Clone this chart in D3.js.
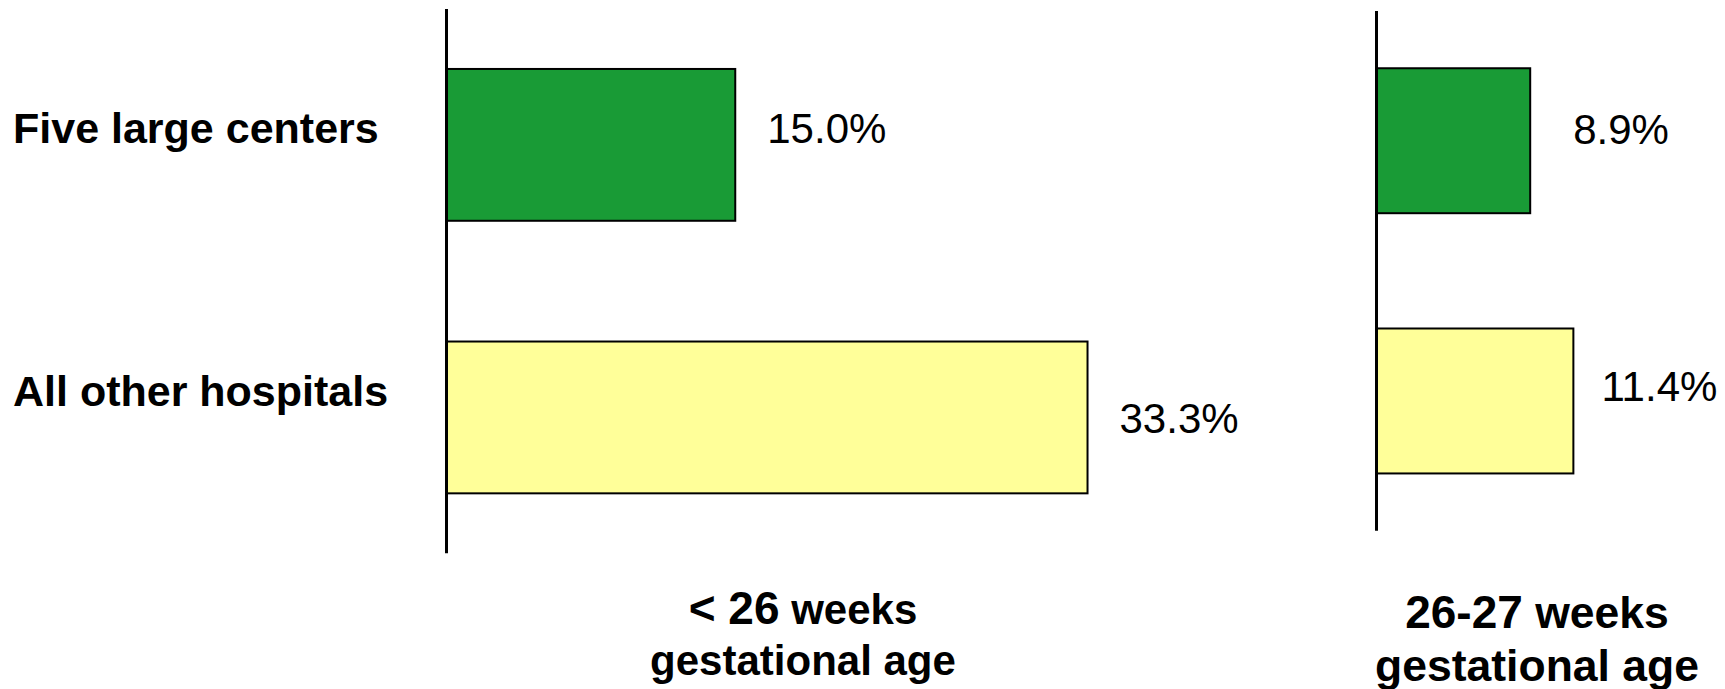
<!doctype html>
<html lang="en">
<head>
<meta charset="utf-8">
<style>
  body { margin: 0; background: #fff; }
  svg { display: block; }
  text { font-family: "Liberation Sans", Arial, sans-serif; fill: #000; }
  .cat { font-size: 43px; font-weight: bold; }
  .val { font-size: 42px; }
  .title { font-weight: bold; }
  .big { font-size: 46px; }
</style>
</head>
<body>
<script src="https://cdn.jsdelivr.net/npm/d3@7"></script>
<script>
// data
var categories = ["Five large centers", "All other hospitals"];
var under26 = [15.0, 33.3];
var weeks26to27 = [8.9, 11.4];
var titleBig = ["< 26", "26-27"];
var titleRest = [" weeks", " weeks"];
var titleLine2 = ["gestational age", "gestational age"];
var barColors = ["#199b36", "#ffff99"];

var width = 1725, height = 689;

// layout of the two panels (positions only)
var panels = [
  { values: under26, max: 35, x0: 446.5, ppu: 19.25, y: [9, 553.3],
    gap: [32, 32], dy: [-1.5, 15.5], tx: 803, ty: [624, 675], fs: 42 },
  { values: weeks26to27, max: 15, x0: 1376.5, ppu: 17.27, y: [11, 530.7],
    gap: [43, 28], dy: [3, 0], tx: 1537, ty: [628, 681], fs: 44.5 }
];
var catDy = [-1.5, -11];

var svg = d3.select("body").append("svg")
    .attr("width", width)
    .attr("height", height);

panels.forEach(function(p, k) {
  var x = d3.scaleLinear().domain([0, p.max]).range([p.x0, p.x0 + p.max * p.ppu]);
  var y = d3.scaleBand().domain(categories).range(p.y)
      .paddingInner(0.443).paddingOuter(0.22);

  var g = svg.append("g");

  g.selectAll("rect")
    .data(p.values).enter()
    .append("rect")
    .attr("x", x(0))
    .attr("y", function(d, i) { return y(categories[i]); })
    .attr("width", function(d) { return x(d) - x(0); })
    .attr("height", y.bandwidth())
    .attr("fill", function(d, i) { return barColors[i]; })
    .attr("stroke", "#000")
    .attr("stroke-width", 2);

  g.append("line")
    .attr("x1", x(0)).attr("x2", x(0))
    .attr("y1", p.y[0]).attr("y2", p.y[1])
    .attr("stroke", "#000")
    .attr("stroke-width", 3);

  g.selectAll("text.val")
    .data(p.values).enter()
    .append("text")
    .attr("class", "val")
    .attr("x", function(d, i) { return x(d) + p.gap[i]; })
    .attr("y", function(d, i) { return y(categories[i]) + y.bandwidth() / 2 + p.dy[i]; })
    .text(function(d) { return d.toFixed(1) + "%"; });

  var t1 = g.append("text").attr("class", "title")
    .style("font-size", p.fs + "px")
    .attr("x", p.tx).attr("y", p.ty[0]).attr("text-anchor", "middle");
  t1.append("tspan").attr("class", "big").text(titleBig[k]);
  t1.append("tspan").text(titleRest[k]);
  g.append("text").attr("class", "title")
    .style("font-size", p.fs + "px")
    .attr("x", p.tx).attr("y", p.ty[1]).attr("text-anchor", "middle")
    .text(titleLine2[k]);

  if (k === 0) {
    svg.selectAll("text.cat")
      .data(categories).enter()
      .append("text")
      .attr("class", "cat")
      .attr("x", 13)
      .attr("y", function(d, i) { return y(d) + y.bandwidth() / 2 + catDy[i]; })
      .text(function(d) { return d; });
  }
});
</script>
</body>
</html>
